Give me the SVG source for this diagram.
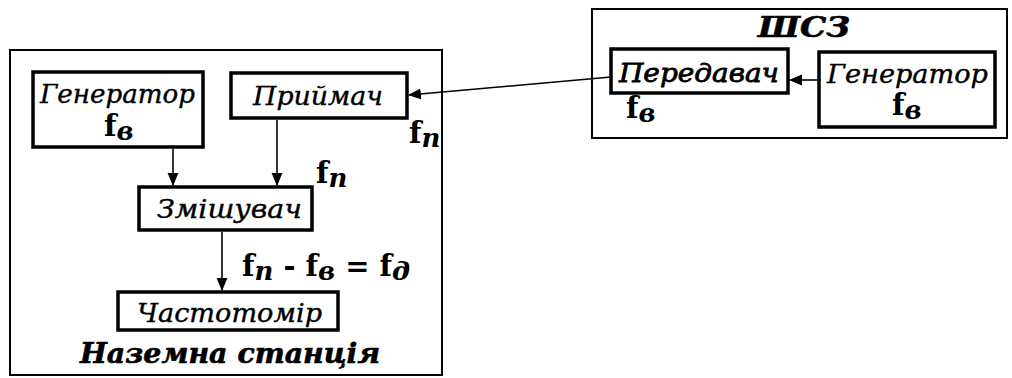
<svg xmlns="http://www.w3.org/2000/svg" width="1012" height="378" viewBox="0 0 1012 378">
<style>
.frame{fill:none;stroke:#000;stroke-width:2}
.box{fill:#fff;stroke:#000;stroke-width:3.5}
.lbl{font-family:'DejaVu Serif',serif;font-style:italic;font-size:26px;fill:#000;stroke:#000;stroke-width:0.4}
.heavy{stroke-width:0.8}
.f{font-family:'DejaVu Serif',serif;font-weight:bold;font-size:29px;fill:#000}
.sub{font-style:italic;font-size:26px}
.title{font-family:'DejaVu Serif',serif;font-weight:bold;font-style:italic;font-size:27px;fill:#000;stroke:#000;stroke-width:0.6}
.con{fill:none;stroke:#000;stroke-width:1.6}
</style>
<defs>
<marker id="ah" markerUnits="userSpaceOnUse" markerWidth="13" markerHeight="13" viewBox="0 0 12 12" refX="11" refY="6" orient="auto">
<path d="M0,1 L12,6 L0,11 Z" fill="#000"/>
</marker>
</defs>
<g id="ground-station">
<rect class="frame" x="10" y="50" width="432" height="325"/>
<text class="title" x="80" y="363" textLength="300" lengthAdjust="spacingAndGlyphs">Наземна станція</text>
</g>
<g id="satellite">
<rect class="frame" x="592" y="9" width="415" height="129"/>
<text class="title" x="758" y="37" font-size="29" textLength="92" lengthAdjust="spacingAndGlyphs">ШСЗ</text>
</g>
<g id="generator-ground">
<rect class="box" x="33" y="72" width="170" height="75"/>
<text class="lbl" x="40" y="103" textLength="155" lengthAdjust="spacingAndGlyphs">Генератор</text>
<text class="f" x="104" y="136">f<tspan class="sub" dy="4">в</tspan></text>
</g>
<g id="receiver">
<rect class="box" x="231" y="73" width="176" height="45"/>
<text class="lbl" x="253" y="105" textLength="130" lengthAdjust="spacingAndGlyphs">Приймач</text>
</g>
<g id="mixer">
<rect class="box" x="139" y="187" width="173" height="43"/>
<text class="lbl" x="157" y="218" textLength="145" lengthAdjust="spacingAndGlyphs">Змішувач</text>
</g>
<g id="frequency-meter">
<rect class="box" x="118" y="292" width="220" height="38"/>
<text class="lbl" x="137" y="322" textLength="185" lengthAdjust="spacingAndGlyphs">Частотомір</text>
</g>
<g id="transmitter">
<rect class="box" x="611" y="49" width="177" height="44"/>
<text class="lbl heavy" x="619" y="82" textLength="160" lengthAdjust="spacingAndGlyphs">Передавач</text>
<text class="f" x="626" y="118">f<tspan class="sub" dy="4">в</tspan></text>
</g>
<g id="generator-satellite">
<rect class="box" x="819" y="52" width="176" height="75"/>
<text class="lbl" x="827" y="83" textLength="161" lengthAdjust="spacingAndGlyphs">Генератор</text>
<text class="f" x="892" y="115" font-size="27">f<tspan class="sub" font-size="24" dy="4">в</tspan></text>
</g>
<g id="connectors">
<line class="con" x1="173" y1="149" x2="173" y2="185" marker-end="url(#ah)"/>
<line class="con" x1="277" y1="120" x2="277" y2="185" marker-end="url(#ah)"/>
<line class="con" x1="222" y1="232" x2="222" y2="290" marker-end="url(#ah)"/>
<line class="con" x1="817" y1="80" x2="790" y2="80" marker-end="url(#ah)"/>
<line class="con" x1="611" y1="77" x2="409" y2="95" marker-end="url(#ah)"/>
</g>
<g id="labels">
<text class="f" x="409" y="143">f<tspan class="sub" dy="4">п</tspan></text>
<text class="f" x="316" y="183">f<tspan class="sub" dy="4">п</tspan></text>
<text class="f" x="242" y="276" textLength="168" lengthAdjust="spacingAndGlyphs">f<tspan class="sub" dy="4">п</tspan><tspan dy="-4"> - f</tspan><tspan class="sub" dy="4">в</tspan><tspan dy="-4"> = f</tspan><tspan class="sub" dy="4">д</tspan></text>
</g>
</svg>
